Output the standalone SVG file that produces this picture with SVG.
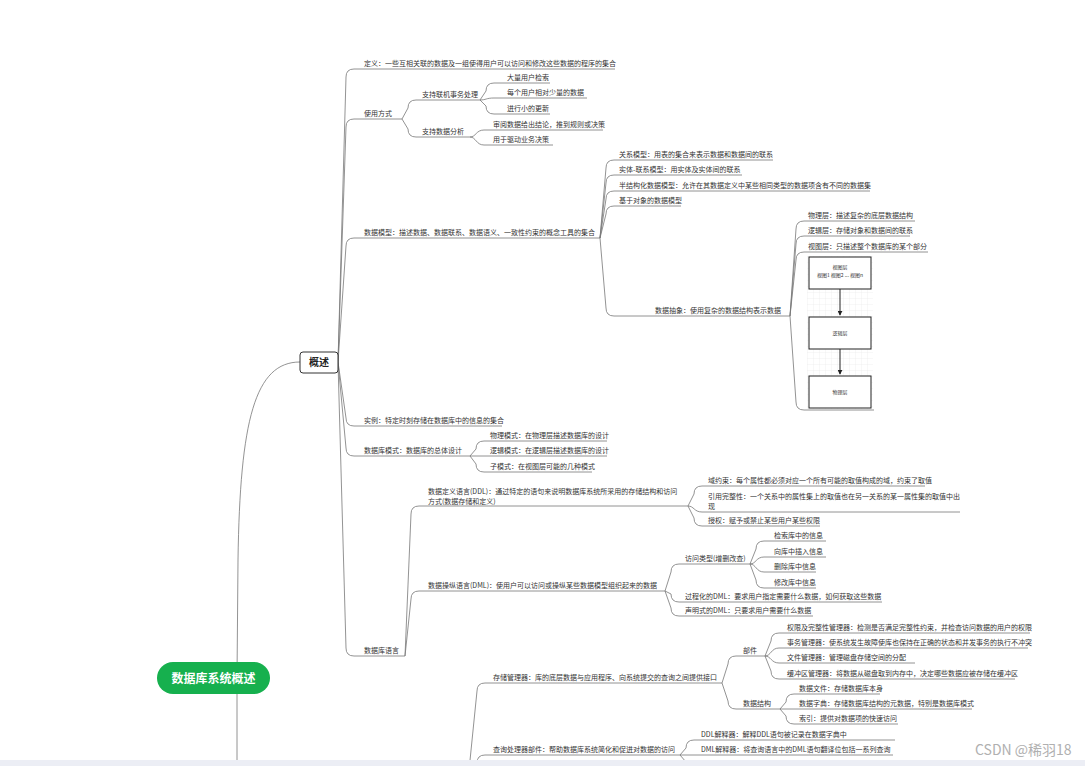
<svg xmlns="http://www.w3.org/2000/svg" width="1085" height="766" viewBox="0 0 1085 766">
<style>
.t{font-family:"Noto Sans CJK SC","Noto Sans",sans-serif;font-size:7px;fill:#333}
.c{fill:none;stroke:#777;stroke-width:0.8}
.bx{fill:#fff;stroke:#222;stroke-width:1}
.bt{font-family:"Noto Sans CJK SC",sans-serif;font-size:5px;fill:#333;text-anchor:middle}
</style>
<defs>
<pattern id="grid" width="6" height="6" patternUnits="userSpaceOnUse" x="807" y="256">
<path d="M6 0H0V6" fill="none" stroke="#e4e4e4" stroke-width="0.5"/>
</pattern>
<marker id="ar" viewBox="0 0 6 6" refX="5" refY="3" markerWidth="5" markerHeight="5" orient="auto">
<path d="M0 0L6 3L0 6Z" fill="#222"/>
</marker>
</defs>
<rect width="1085" height="766" fill="#fff"/>
<g id="connectors">
<path class="c" d="M237 678L238 560C240 420 255 362 300 362"/>
<path class="c" d="M237 678L237 766"/>
<path class="c" d="M338 362L346 77Q346 69 354 69H615"/>
<path class="c" d="M338 362L346 127Q346 119 354 119H402"/>
<path class="c" d="M338 362L346 246Q346 238 354 238H600"/>
<path class="c" d="M338 362L346 418Q346 426 354 426H502"/>
<path class="c" d="M338 362L346 448Q346 456 354 456H470"/>
<path class="c" d="M338 362L346 648Q346 656 354 656H405"/>
<path class="c" d="M402 119L408 108Q408 100 416 100H480"/>
<path class="c" d="M402 119L408 129Q408 137 416 137H470"/>
<path class="c" d="M480 100L486 91Q486 83 494 83H550"/>
<path class="c" d="M480 100C486 100 486 98 494 98H587"/>
<path class="c" d="M480 100L486 106Q486 114 494 114H550"/>
<path class="c" d="M470 137C476 137 476 130 484 130H603"/>
<path class="c" d="M470 137C476 137 476 145 484 145H553"/>
<path class="c" d="M600 238L606 168Q606 160 614 160H773"/>
<path class="c" d="M600 238L606 183Q606 175 614 175H742"/>
<path class="c" d="M600 238L606 199Q606 191 614 191H870"/>
<path class="c" d="M600 238L606 214Q606 206 614 206H681"/>
<path class="c" d="M600 238L606 308Q606 316 614 316H790"/>
<path class="c" d="M790 316L796 229Q796 221 804 221H915"/>
<path class="c" d="M790 316L796 244Q796 236 804 236H910"/>
<path class="c" d="M790 316L796 260Q796 252 804 252H928"/>
<path class="c" d="M790 316L796 402Q796 410 804 410H874"/>
<path class="c" d="M470 456L476 449Q476 441 484 441H607"/>
<path class="c" d="M470 456H607"/>
<path class="c" d="M470 456L476 464Q476 472 484 472H592"/>
<path class="c" d="M405 656L411 514Q411 506 419 506H688"/>
<path class="c" d="M405 656L411 599Q411 591 419 591H665"/>
<path class="c" d="M688 506L694 494Q694 486 702 486H925"/>
<path class="c" d="M688 506C694 506 694 512 702 512H960"/>
<path class="c" d="M688 506L694 518Q694 526 702 526H820"/>
<path class="c" d="M665 591L671 572Q671 564 679 564H750"/>
<path class="c" d="M665 591L671 594Q671 602 679 602H882"/>
<path class="c" d="M665 591L671 608Q671 616 679 616H813"/>
<path class="c" d="M750 564L756 549Q756 541 764 541H826"/>
<path class="c" d="M750 564C756 564 756 557 764 557H826"/>
<path class="c" d="M750 564C756 564 756 572 764 572H816"/>
<path class="c" d="M750 564L756 580Q756 588 764 588H816"/>
<path class="c" d="M466 800L477 691Q477 683 485 683H722"/>
<path class="c" d="M466 800L477 763Q477 755 485 755H680"/>
<path class="c" d="M722 683L728 664Q728 656 736 656H765"/>
<path class="c" d="M722 683L728 701Q728 709 736 709H780"/>
<path class="c" d="M765 656L771 641Q771 633 779 633H1030"/>
<path class="c" d="M765 656C771 656 771 648 779 648H1028"/>
<path class="c" d="M765 656C771 656 771 663 779 663H915"/>
<path class="c" d="M765 656L771 671Q771 679 779 679H1015"/>
<path class="c" d="M780 709L786 702Q786 694 794 694H880"/>
<path class="c" d="M780 709H972"/>
<path class="c" d="M780 709L786 716Q786 724 794 724H898"/>
<path class="c" d="M680 755L686 748Q686 740 694 740H895"/>
<path class="c" d="M680 755H893"/>
<path class="c" d="M680 755L686 762Q686 770 694 770H880"/>
</g>
<g id="root"><rect x="157" y="662" width="113" height="32" rx="16" fill="#16b04e"/><text x="213.5" y="682.5" text-anchor="middle" font-family="Noto Sans CJK SC,sans-serif" font-size="12" font-weight="bold" fill="#fff">数据库系统概述</text></g>
<g id="n-gaishu"><rect x="300" y="352" width="38" height="21" rx="3" fill="#fff" stroke="#333" stroke-width="1"/><text x="319" y="366" text-anchor="middle" font-family="Noto Sans CJK SC,sans-serif" font-size="10" font-weight="bold" fill="#222">概述</text></g>
<g id="n-dingyi"><text class="t" x="364" y="65.5">定义：一些互相关联的数据及一组使得用户可以访问和修改这些数据的程序的集合</text></g>
<g id="n-shiyong"><text class="t" x="364" y="115.5">使用方式</text></g>
<g id="n-lianji"><text class="t" x="422" y="96.5">支持联机事务处理</text></g>
<g id="n-fenxi"><text class="t" x="422" y="133.5">支持数据分析</text></g>
<g id="n-jiansuo"><text class="t" x="507" y="79.5">大量用户检索</text></g>
<g id="n-shaoliang"><text class="t" x="507" y="94.5">每个用户相对少量的数据</text></g>
<g id="n-gengxin"><text class="t" x="507" y="110.5">进行小的更新</text></g>
<g id="n-shenyue"><text class="t" x="493" y="126.5">审阅数据给出结论，推到规则或决策</text></g>
<g id="n-qudong"><text class="t" x="493" y="141.5">用于驱动业务决策</text></g>
<g id="n-moxing"><text class="t" x="364" y="234.5">数据模型：描述数据、数据联系、数据语义、一致性约束的概念工具的集合</text></g>
<g id="n-guanxi"><text class="t" x="619" y="156.5">关系模型：用表的集合来表示数据和数据间的联系</text></g>
<g id="n-shiti"><text class="t" x="619" y="171.5">实体-联系模型：用实体及实体间的联系</text></g>
<g id="n-banjiegou"><text class="t" x="619" y="187.5">半结构化数据模型：允许在其数据定义中某些相同类型的数据项含有不同的数据集</text></g>
<g id="n-duixiang"><text class="t" x="619" y="202.5">基于对象的数据模型</text></g>
<g id="n-chouxiang"><text class="t" x="655" y="312.5">数据抽象：使用复杂的数据结构表示数据</text></g>
<g id="n-wuli"><text class="t" x="808" y="217.5">物理层：描述复杂的底层数据结构</text></g>
<g id="n-luoji"><text class="t" x="808" y="232.5">逻辑层：存储对象和数据间的联系</text></g>
<g id="n-shitu"><text class="t" x="808" y="248.5">视图层：只描述整个数据库的某个部分</text></g>
<g id="n-image">
<rect x="807" y="256" width="66" height="153" fill="url(#grid)"/>
<rect class="bx" x="809" y="257" width="62" height="32"/>
<text class="bt" x="840" y="269">视图层</text>
<text class="bt" x="840" y="277">视图1  视图2 ... 视图n</text>
<line x1="840" y1="289" x2="840" y2="315" stroke="#222" stroke-width="1" marker-end="url(#ar)"/>
<rect class="bx" x="809" y="317" width="62" height="32"/>
<text class="bt" x="840" y="335">逻辑层</text>
<line x1="840" y1="349" x2="840" y2="374" stroke="#222" stroke-width="1" marker-end="url(#ar)"/>
<rect class="bx" x="809" y="376" width="62" height="32"/>
<text class="bt" x="840" y="394">物理层</text>
</g>
<g id="n-shili"><text class="t" x="364" y="422.5">实例：特定时刻存储在数据库中的信息的集合</text></g>
<g id="n-moshi"><text class="t" x="364" y="452.5">数据库模式：数据库的总体设计</text></g>
<g id="n-wulimoshi"><text class="t" x="490" y="437.5">物理模式：在物理层描述数据库的设计</text></g>
<g id="n-luojimoshi"><text class="t" x="490" y="452.5">逻辑模式：在逻辑层描述数据库的设计</text></g>
<g id="n-zimoshi"><text class="t" x="490" y="468.5">子模式：在视图层可能的几种模式</text></g>
<g id="n-yuyan"><text class="t" x="364" y="652.5">数据库语言</text></g>
<g id="n-ddl"><text class="t" x="428" y="493.5">数据定义语言(DDL)：通过特定的语句来说明数据库系统所采用的存储结构和访问</text><text class="t" x="428" y="503.5">方式(数据存储和定义)</text></g>
<g id="n-yuyueshu"><text class="t" x="708" y="482.5">域约束：每个属性都必须对应一个所有可能的取值构成的域，约束了取值</text></g>
<g id="n-yinyong"><text class="t" x="708" y="499">引用完整性：一个关系中的属性集上的取值也在另一关系的某一属性集的取值中出</text><text class="t" x="708" y="508.5">现</text></g>
<g id="n-shouquan"><text class="t" x="708" y="522.5">授权：赋予或禁止某些用户某些权限</text></g>
<g id="n-dml"><text class="t" x="428" y="587.5">数据操纵语言(DML)：使用户可以访问或操纵某些数据模型组织起来的数据</text></g>
<g id="n-fangwen"><text class="t" x="685" y="560.5">访问类型(增删改查)</text></g>
<g id="n-jiansuoku"><text class="t" x="774" y="537.5">检索库中的信息</text></g>
<g id="n-charu"><text class="t" x="774" y="553.5">向库中插入信息</text></g>
<g id="n-shanchu"><text class="t" x="774" y="568.5">删除库中信息</text></g>
<g id="n-xiugai"><text class="t" x="774" y="584.5">修改库中信息</text></g>
<g id="n-guocheng"><text class="t" x="685" y="598.5">过程化的DML：要求用户指定需要什么数据，如何获取这些数据</text></g>
<g id="n-shengming"><text class="t" x="685" y="612.5">声明式的DML：只要求用户需要什么数据</text></g>
<g id="n-cunchu"><text class="t" x="493" y="679.5">存储管理器：库的底层数据与应用程序、向系统提交的查询之间提供接口</text></g>
<g id="n-bujian"><text class="t" x="743" y="652.5">部件</text></g>
<g id="n-quanxian"><text class="t" x="787" y="629.5">权限及完整性管理器：检测是否满足完整性约束，并检查访问数据的用户的权限</text></g>
<g id="n-shiwu"><text class="t" x="787" y="644.5">事务管理器：使系统发生故障使库也保持在正确的状态和并发事务的执行不冲突</text></g>
<g id="n-wenjian"><text class="t" x="787" y="659.5">文件管理器：管理磁盘存储空间的分配</text></g>
<g id="n-huanchong"><text class="t" x="787" y="675.5">缓冲区管理器：将数据从磁盘取到内存中，决定哪些数据应被存储在缓冲区</text></g>
<g id="n-jiegou"><text class="t" x="743" y="705.5">数据结构</text></g>
<g id="n-wenjian2"><text class="t" x="799" y="690.5">数据文件：存储数据库本身</text></g>
<g id="n-zidian"><text class="t" x="799" y="705.5">数据字典：存储数据库结构的元数据，特别是数据库模式</text></g>
<g id="n-suoyin"><text class="t" x="799" y="720.5">索引：提供对数据项的快速访问</text></g>
<g id="n-chaxun"><text class="t" x="493" y="751.5">查询处理器部件：帮助数据库系统简化和促进对数据的访问</text></g>
<g id="n-ddljs"><text class="t" x="701" y="736.5">DDL解释器：解释DDL语句被记录在数据字典中</text></g>
<g id="n-dmljs"><text class="t" x="701" y="751.5">DML解释器：将查询语言中的DML语句翻译位包括一系列查询</text></g>
<text x="975" y="755" font-family="Noto Sans CJK SC,sans-serif" font-size="14" fill="#b0b0b0">CSDN @稀羽18</text>
<rect x="0" y="760" width="1085" height="6" fill="#eceef5"/>
</svg>
